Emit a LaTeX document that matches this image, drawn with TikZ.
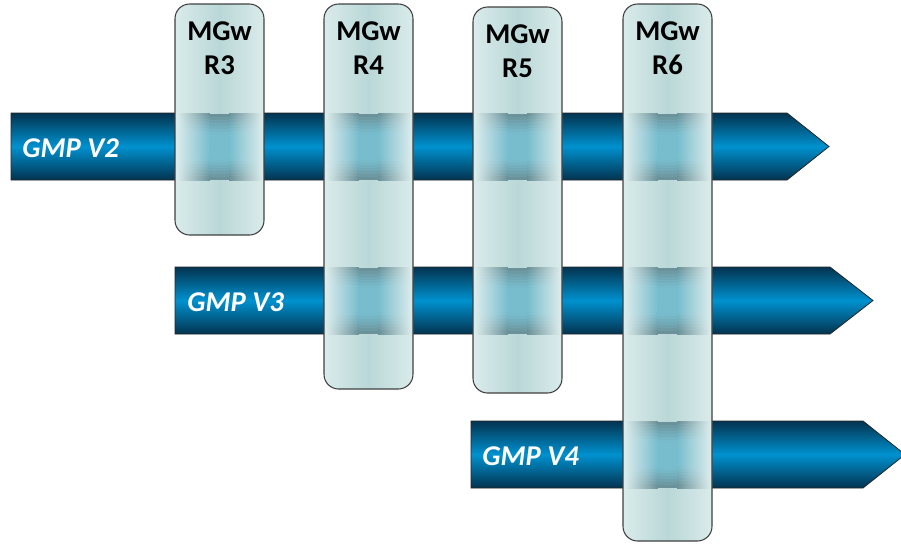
\documentclass[tikz,border=0pt]{standalone}
\usepackage{fontspec}
\setmainfont{Carlito}

\definecolor{gmpdark}{HTML}{033350}
\definecolor{gmpmid}{HTML}{0091CF}
\definecolor{boxedge}{HTML}{DAEBEB}
\definecolor{boxmid}{HTML}{BAD7D7}
\definecolor{patchtop}{HTML}{6A8E95}
\definecolor{patchmid}{HTML}{78BDCE}

\tikzset{
  gmp/.style={draw=black!85, line width=0.6pt, top color=gmpdark, bottom color=gmpdark, middle color=gmpmid},
  gmplabel/.style={anchor=base west, inner sep=0pt, text=white, font=\fontsize{21.5}{26}\selectfont\bfseries\itshape},
  mgw/.style={draw=black!75, line width=0.8pt, rounded corners=11pt, left color=boxedge, right color=boxedge, middle color=boxmid},
  mgwlabel/.style={inner sep=0pt, align=center, font=\fontsize{21.5}{25.5}\selectfont\bfseries},
}

% blurred crossing of a box and an arrow, built from thin shaded strips
% #1 = left x, #2 = right x, #3 = top y of the arrow band
\newcommand{\mgwcross}[3]{%
  \pgfmathsetmacro{\xa}{#1+0.38*(#2-#1)}
  \pgfmathsetmacro{\xb}{#2-0.38*(#2-#1)}
  \foreach \i in {0,...,21} {
    \pgfmathtruncatemacro{\p}{min(100,120*sin(180*(\i+0.5)/22))}
    \colorlet{crossmid}{patchmid!\p!patchtop}
    \shade [left color=boxedge, right color=crossmid] (#1,#3+\i*3) rectangle (\xa+0.5,#3+\i*3+3.5) ;
    \fill [crossmid] (\xa,#3+\i*3) rectangle (\xb,#3+\i*3+3.5) ;
    \shade [left color=crossmid, right color=boxedge] (\xb-0.5,#3+\i*3) rectangle (#2,#3+\i*3+3.5) ;
  }
}

\begin{document}
\begin{tikzpicture}[x=0.75pt,y=0.75pt,yscale=-1,xscale=1]
\useasboundingbox (0,0) rectangle (901,544);

%Shape: Arrow V2
\draw [gmp] (11,113) -- (787,113) -- (829,146.5) -- (787,180) -- (11,180) -- cycle ;
%Shape: Arrow V3
\draw [gmp] (175,267) -- (830,267) -- (873,300.5) -- (830,334) -- (175,334) -- cycle ;
%Shape: Arrow V4
\draw [gmp] (471,421) -- (863,421) -- (905,454.5) -- (863,488) -- (471,488) -- cycle ;

%Shape: Rounded Rect R3
\draw [mgw] (175,4) rectangle (264,235) ;
%Shape: Rounded Rect R4
\draw [mgw] (324,4) rectangle (413,389) ;
%Shape: Rounded Rect R5
\draw [mgw] (473,7) rectangle (562,393) ;
%Shape: Rounded Rect R6
\draw [mgw] (623,4) rectangle (712,541) ;

%Crossings R3
\mgwcross{177}{262}{113.5}
%Crossings R4
\mgwcross{326}{411}{113.5}
\mgwcross{326}{411}{267.5}
%Crossings R5
\mgwcross{475}{560}{113.5}
\mgwcross{475}{560}{267.5}
%Crossings R6
\mgwcross{625}{710}{113.5}
\mgwcross{625}{710}{267.5}
\mgwcross{625}{710}{421.5}

% Text Node
\draw (22,157) node [gmplabel] (lv2) {GMP V2};
% Text Node
\draw (187,311) node [gmplabel] (lv3) {GMP V3};
% Text Node
\draw (482,465) node [gmplabel] (lv4) {GMP V4};
% Text Node
\draw (219.5,48) node [mgwlabel] (lr3) {MGw\\R3};
% Text Node
\draw (368.5,48) node [mgwlabel] (lr4) {MGw\\R4};
% Text Node
\draw (517.5,51) node [mgwlabel] (lr5) {MGw\\R5};
% Text Node
\draw (667.5,48) node [mgwlabel] (lr6) {MGw\\R6};

\end{tikzpicture}
\end{document}
